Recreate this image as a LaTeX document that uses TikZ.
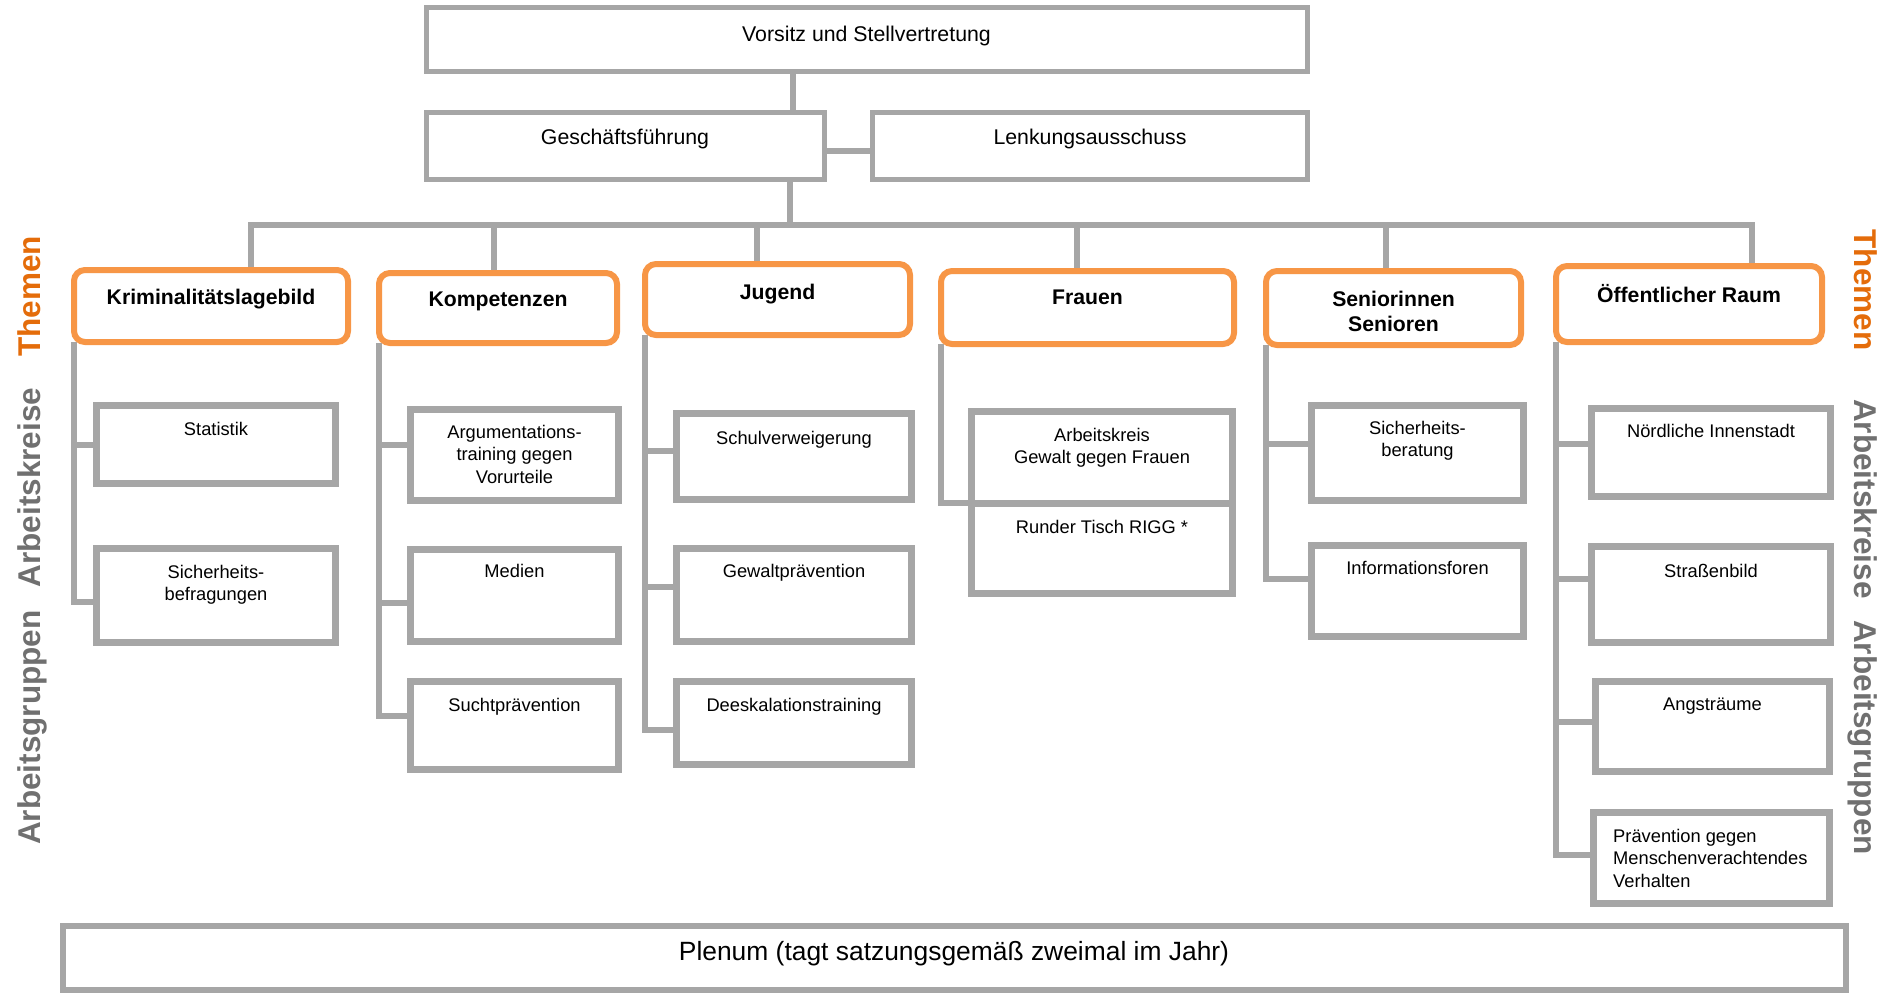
\documentclass[tikz,border=0pt]{standalone}
\usepackage{fontspec}
\setmainfont{Liberation Sans}
\usetikzlibrary{fit}
\definecolor{boxgray}{HTML}{A6A6A6}
\definecolor{themeor}{HTML}{F79646}
\definecolor{labor}{HTML}{E46C0A}
\definecolor{labgray}{HTML}{707070}
\pgfdeclarelayer{bg}
\pgfsetlayers{bg,main}
\newcommand{\mlc}[1]{\begin{tabular}[t]{@{}c@{}}#1\end{tabular}}
\newcommand{\mll}[1]{\begin{tabular}[t]{@{}l@{}}#1\end{tabular}}
\begin{document}
\begin{tikzpicture}[x=1pt,y=-1pt,
  conn/.style={draw=boxgray, line width=6pt},
  topbox/.style={draw=boxgray, line width=5pt, fill=white, inner sep=0pt, outer sep=0pt},
  subbox/.style={draw=boxgray, line width=7pt, fill=white, inner sep=0pt, outer sep=0pt},
  themebox/.style={draw=themeor, line width=6pt, fill=white, rounded corners=11pt, inner sep=0pt, outer sep=0pt},
  plenbox/.style={draw=boxgray, line width=6pt, fill=white, inner sep=0pt, outer sep=0pt},
  toptxt/.style={font=\fontsize{21.3}{25}\selectfont, inner sep=0pt, anchor=base},
  plentxt/.style={font=\fontsize{26.4}{30}\selectfont, inner sep=0pt, anchor=base},
  themetxt/.style={font=\fontsize{21.2}{25}\selectfont\bfseries, inner sep=0pt, anchor=base},
  subtxt/.style={font=\fontsize{18.3}{22.5}\selectfont, inner sep=0pt, anchor=base},
  sidel/.style={font=\fontsize{31.5}{36}\selectfont\bfseries, inner sep=0pt, anchor=base, rotate=90},
  sider/.style={font=\fontsize{31.5}{36}\selectfont\bfseries, inner sep=0pt, anchor=base, rotate=-90},
]
\useasboundingbox (0,0) rectangle (1883,994);

% top level
\node[topbox, fit={(426,7) (1307,71)}] (vors) {};
\node[toptxt] (tvors) at (866.5,41) {Vorsitz und Stellvertretung};
\node[topbox, fit={(426,112.5) (824,179.5)}] (gf) {};
\node[toptxt] (tgf) at (625,144) {Geschäftsführung};
\node[topbox, fit={(872.5,112.5) (1307,179.5)}] (lenk) {};
\node[toptxt] (tlenk) at (1090,144) {Lenkungsausschuss};

% themes
\node[themebox, fit={(74,270) (348,342)}] (krim) {};
\node[themetxt] (tkrim) at (211,304) {Kriminalitätslagebild};
\node[themebox, fit={(379,273) (617,343)}] (komp) {};
\node[themetxt] (tkomp) at (498,306) {Kompetenzen};
\node[themebox, fit={(645,264) (910,335)}] (jug) {};
\node[themetxt] (tjug) at (777.5,299.5) {Jugend};
\node[themebox, fit={(941,271) (1234,344)}] (frau) {};
\node[themetxt] (tfrau) at (1087.5,304) {Frauen};
\node[themebox, fit={(1266,271) (1521,345)}] (sen) {};
\node[themetxt] (tsen) at (1393.5,306) {\mlc{Seniorinnen\\Senioren}};
\node[themebox, fit={(1556,266) (1822,342)}] (oeff) {};
\node[themetxt] (toeff) at (1689,302) {Öffentlicher Raum};

% column 1
\node[subbox, fit={(96.5,405.5) (335.5,483.5)}] (stat) {};
\node[subtxt] (tstat) at (216,435) {Statistik};
\node[subbox, fit={(96.5,548.5) (335.5,642.5)}] (befr) {};
\node[subtxt] (tbefr) at (216,578) {\mlc{Sicherheits-\\befragungen}};

% column 2
\node[subbox, fit={(410.5,409.5) (618.5,500.5)}] (arg) {};
\node[subtxt] (targ) at (514.5,438) {\mlc{Argumentations-\\training gegen\\Vorurteile}};
\node[subbox, fit={(410.5,549.5) (618.5,641.5)}] (med) {};
\node[subtxt] (tmed) at (514.5,577) {Medien};
\node[subbox, fit={(410.5,681.5) (618.5,769.5)}] (sucht) {};
\node[subtxt] (tsucht) at (514.5,711) {Suchtprävention};

% column 3
\node[subbox, fit={(676.5,413.5) (911.5,499.5)}] (schul) {};
\node[subtxt] (tschul) at (794,444) {Schulverweigerung};
\node[subbox, fit={(676.5,548.5) (911.5,641.5)}] (gewp) {};
\node[subtxt] (tgewp) at (794,577) {Gewaltprävention};
\node[subbox, fit={(676.5,681.5) (911.5,764.5)}] (dees) {};
\node[subtxt] (tdees) at (794,711) {Deeskalationstraining};

% column 4
\node[subbox, fit={(971.5,411.5) (1232.5,503)}] (akgf) {};
\node[subtxt] (takgf) at (1102,441) {\mlc{Arbeitskreis\\Gewalt gegen Frauen}};
\node[subbox, fit={(971.5,503) (1232.5,593.5)}] (rigg) {};
\node[subtxt] (trigg) at (1102,533) {Runder Tisch RIGG *};

% column 5
\node[subbox, fit={(1311.5,405.5) (1523.5,500.5)}] (sich) {};
\node[subtxt] (tsich) at (1417.5,434) {\mlc{Sicherheits-\\beratung}};
\node[subbox, fit={(1311.5,545.5) (1523.5,636.5)}] (info) {};
\node[subtxt] (tinfo) at (1417.5,574) {Informationsforen};

% column 6
\node[subbox, fit={(1591.5,408.5) (1830.5,496.5)}] (noerd) {};
\node[subtxt] (tnoerd) at (1711,437) {Nördliche Innenstadt};
\node[subbox, fit={(1591.5,546.5) (1830.5,642.5)}] (strass) {};
\node[subtxt] (tstrass) at (1711,577) {Straßenbild};
\node[subbox, fit={(1595.5,681.5) (1829.5,771.5)}] (angst) {};
\node[subtxt] (tangst) at (1712.5,710) {Angsträume};
\node[subbox, fit={(1593.5,812.5) (1829.5,903.5)}] (praev) {};
\node[subtxt, anchor=base west] (tpraev) at (1613,842) {\mll{Prävention gegen\\Menschenverachtendes\\Verhalten}};

% plenum
\node[plenbox, fit={(62.5,925.5) (1846,990)}] (plen) {};
\node[plentxt] (tplen) at (954,960.5) {Plenum (tagt satzungsgemäß zweimal im Jahr)};

% side labels
\node[sidel, text=labor] (lth) at (40,296.5) {Themen};
\node[sidel, text=labgray] (lak) at (40,487.5) {Arbeitskreise};
\node[sidel, text=labgray] (lag) at (40,727.5) {Arbeitsgruppen};
\node[sider, text=labor] (rth) at (1854,290) {Themen};
\node[sider, text=labgray] (rak) at (1854,499) {Arbeitskreise};
\node[sider, text=labgray] (rag) at (1854,737.5) {Arbeitsgruppen};

% connectors
\begin{pgfonlayer}{bg}
\coordinate (bus) at (790,224.5);
\draw[conn] ([xshift=168pt]gf.north) -- ([xshift=168pt]gf.north |- vors.south);
\draw[conn] ([yshift=-5pt]gf.east) -- ([yshift=-5pt]gf.east -| lenk.west);
\draw[conn] (bus |- gf.south) -- (bus);
\draw[conn] ([xshift=40pt]krim.north) |- (bus);
\draw[conn] ([xshift=-4pt]komp.north) |- (bus);
\draw[conn] ([xshift=-20.5pt]jug.north) |- (bus);
\draw[conn] ([xshift=-10.5pt]frau.north) |- (bus);
\draw[conn] ([xshift=-7.5pt]sen.north) |- (bus);
\draw[conn] ([xshift=63pt]oeff.north) |- (bus);

\draw[conn] (krim.south west) |- (stat.west);
\draw[conn] (krim.south west) |- ([yshift=-6.5pt]befr.west);

\draw[conn] (komp.south west) |- ([yshift=10.5pt]arg.west);
\draw[conn] (komp.south west) |- ([yshift=-7.5pt]med.west);
\draw[conn] (komp.south west) |- ([yshift=9.5pt]sucht.west);

\draw[conn] (jug.south west) |- ([yshift=5.5pt]schul.west);
\draw[conn] (jug.south west) |- ([yshift=8pt]gewp.west);
\draw[conn] (jug.south west) |- ([yshift=-7pt]dees.west);

\draw[conn] (frau.south west) |- (akgf.south west);

\draw[conn] (sen.south west) |- ([yshift=9pt]sich.west);
\draw[conn] (sen.south west) |- ([yshift=12pt]info.west);

\draw[conn] (oeff.south west) |- ([yshift=8.5pt]noerd.west);
\draw[conn] (oeff.south west) |- ([yshift=15.5pt]strass.west);
\draw[conn] (oeff.south west) |- ([yshift=4.5pt]angst.west);
\draw[conn] (oeff.south west) |- ([yshift=3pt]praev.west);
\end{pgfonlayer}
\end{tikzpicture}
\end{document}
